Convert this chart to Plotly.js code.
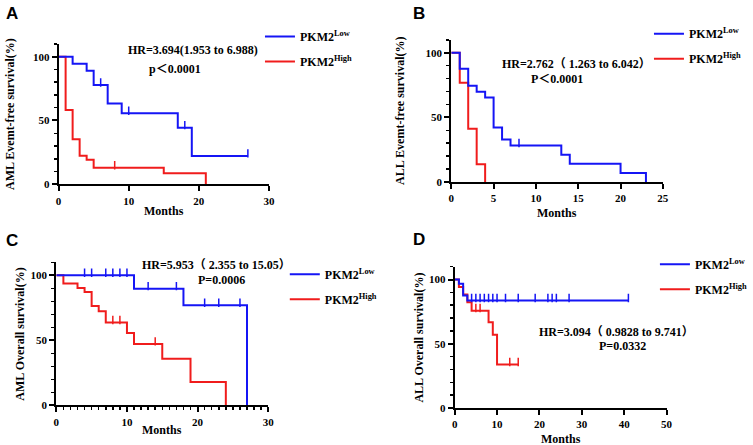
<!DOCTYPE html>
<html><head><meta charset="utf-8">
<script src="https://cdn.plot.ly/plotly-3.0.1.min.js"></script>
<style>html,body{margin:0;padding:0;background:#fff}#chart{width:753px;height:445px}</style>
</head><body><div id="chart"></div>
<script>
// ---------- DATA ----------
// Panel A: AML event-free survival
const aLowTimes = [0, 2, 4, 5, 7, 9, 17, 19, 27];
const aLowSurv = [100, 94.4, 88.9, 77.8, 63.3, 55.6, 44.4, 22.2, 22.2];
const aLowCensor = [6, 10, 18, 27];
const aHighTimes = [0, 1, 2, 3, 4, 5, 15, 21];
const aHighSurv = [100, 58.3, 35.3, 22.4, 19.3, 12.9, 8.6, 0];
const aHighCensor = [8];
// Panel B: ALL event-free survival
const bLowTimes = [0, 1, 2, 3, 4, 5, 6, 7, 13, 14, 20, 23];
const bLowSurv = [100, 87.6, 74.4, 69.8, 65.4, 42.2, 32.9, 28.2, 21.1, 14.1, 7.0, 0];
const bLowCensor = [8];
const bHighTimes = [0, 1, 2, 3, 4];
const bHighSurv = [100, 76.7, 41.1, 13.7, 0];
const bHighCensor = [];
// Panel C: AML overall survival
const cLowTimes = [0, 11, 18, 27];
const cLowSurv = [100, 89.7, 76.9, 0];
const cLowCensor = [4, 5, 7, 8, 9, 10, 13, 17, 21, 23, 26];
const cHighTimes = [0, 1, 3, 4, 5, 6, 7, 10, 11, 15, 19, 24];
const cHighSurv = [100, 93.6, 90.2, 87.2, 76.4, 72.3, 63.6, 55.6, 47.2, 35.9, 17.9, 0];
const cHighCensor = [8, 9, 14];
// Panel D: ALL overall survival
const dLowTimes = [0, 1, 2, 3, 41];
const dLowSurv = [100, 96.7, 87.6, 83.6, 83.6];
const dLowCensor = [4, 5, 6, 7, 8, 9, 10, 12, 15, 19, 22, 23, 24, 27, 41];
const dHighTimes = [0, 1, 2, 3, 4, 8, 9, 10, 15];
const dHighSurv = [100, 94.2, 88.3, 82.3, 75.8, 66.7, 57.1, 33.8, 33.8];
const dHighCensor = [5, 6, 13, 15];

// Text
const panelLetters = ['A', 'B', 'C', 'D'];
const yTitles = ['AML Evemt-free survival(%)', 'ALL Evemt-free survival(%)', 'AML Overall survival(%)', 'ALL Overall survival(%)'];
const xTitle = 'Months';
const hrTexts = ['HR=3.694(1.953 to 6.988)', 'HR=2.762（ 1.263 to 6.042）', 'HR=5.953（ 2.355 to 15.05）', 'HR=3.094（ 0.9828 to 9.741）'];
const pTexts = ['p＜0.0001', 'P＜0.0001', 'P=0.0006', 'P=0.0332'];
const groupNames = ['PKM2<sup>Low</sup>', 'PKM2<sup>High</sup>'];
const xMax = [30, 25, 30, 50];
const xDtick = [10, 5, 10, 10];
const yTickVals = [0, 50, 100];

// ---------- LAYOUT HELPERS ----------
const W = 753, H = 445;
const px = v => v / W, py = v => 1 - v / H;
const serif = 'Liberation Serif, Times New Roman, Noto Sans CJK SC, serif';
const sans = 'Liberation Sans, Arial, sans-serif';
const BLUE = '#1515f5', RED = '#f01c1c';

// plot boxes in pixels: [left, right, top, bottom]
const boxes = [
  [59, 270.7, 43.9, 184.3],
  [454.3, 667.3, 39.8, 182],
  [56.7, 270, 262.3, 405.3],
  [457.7, 671, 266.7, 408]
];
const hrPos = [[193.8, 50], [580.7, 64.3], [218.3, 265.3], [620.8, 332]];
const pPos = [[176, 69.3], [561, 79], [223.3, 280.3], [626.2, 346]];
const letterPos = [[12, 14], [422, 14], [12, 240], [422, 239.5]];
const yTitlePos = [10, 402.7, 20, 422];
const xTitleY = [211, 213, 430, 439];
const legendPos = [[301.7, 32], [693.3, 29.3], [326.7, 269.7], [699.3, 259.7]];

const panels = [
  {low: [aLowTimes, aLowSurv, aLowCensor], high: [aHighTimes, aHighSurv, aHighCensor]},
  {low: [bLowTimes, bLowSurv, bLowCensor], high: [bHighTimes, bHighSurv, bHighCensor]},
  {low: [cLowTimes, cLowSurv, cLowCensor], high: [cHighTimes, cHighSurv, cHighCensor]},
  {low: [dLowTimes, dLowSurv, dLowCensor], high: [dHighTimes, dHighSurv, dHighCensor]}
];

function survAt(times, surv, t) {
  let s = surv[0];
  for (let i = 0; i < times.length; i++) if (times[i] <= t) s = surv[i];
  return s;
}

const traces = [];
const layout = {
  width: W, height: H, margin: {l: 0, r: 0, t: 0, b: 0},
  paper_bgcolor: '#fff', plot_bgcolor: '#fff',
  showlegend: true, annotations: []
};

function label(text, x, y, font, extra) {
  return Object.assign({text: text, x: px(x), y: py(y), xref: 'paper', yref: 'paper',
    xanchor: 'center', yanchor: 'middle', showarrow: false, font: font}, extra || {});
}

panels.forEach((p, i) => {
  const n = i === 0 ? '' : String(i + 1);
  const xa = 'x' + n, ya = 'y' + n;
  const leg = 'legend' + n;
  const b = boxes[i];
  // draw High (red) first, Low (blue) on top
  [['high', RED, groupNames[1], 2], ['low', BLUE, groupNames[0], 1]].forEach(([k, col, name, rank]) => {
    const [t, s, c] = p[k];
    traces.push({
      type: 'scatter', mode: 'lines', x: t, y: s, xaxis: xa, yaxis: ya,
      line: {shape: 'hv', color: col, width: 2}, name: name,
      legend: leg, legendgroup: 'g' + i + k, legendrank: rank, hoverinfo: 'skip'
    });
    if (c.length) {
      traces.push({
        type: 'scatter', mode: 'markers', x: c, y: c.map(v => survAt(t, s, v) + 2),
        xaxis: xa, yaxis: ya, showlegend: false, hoverinfo: 'skip',
        marker: {symbol: 'line-ns', size: 6, line: {color: col, width: 1.5}, color: col}
      });
    }
  });
  const axCommon = {
    showgrid: false, zeroline: false, showline: true, linecolor: '#000', linewidth: 2,
    ticks: 'outside', ticklen: 5, tickwidth: 2, tickcolor: '#000',
    tickfont: {family: serif, size: 11, color: '#000', weight: 'bold'}, fixedrange: true
  };
  layout['xaxis' + n] = Object.assign({}, axCommon, {
    domain: [px(b[0]), px(b[1])], anchor: ya, range: [0, xMax[i]], dtick: xDtick[i], tick0: 0,
    minor: i === 2 ? {dtick: 1, ticks: 'outside', ticklen: 3, tickwidth: 1.5, tickcolor: '#000'} : undefined
  });
  layout['yaxis' + n] = Object.assign({}, axCommon, {
    domain: [py(b[3]), py(b[2])], anchor: xa, range: [0, 110], tickvals: yTickVals,
    minor: {dtick: 10, ticks: 'outside', ticklen: 3, tickwidth: 1.5, tickcolor: '#000'}
  });
  layout[leg] = {
    x: px(legendPos[i][0] - 40), y: py(legendPos[i][1] - 10), xanchor: 'left', yanchor: 'top',
    xref: 'paper', yref: 'paper', bgcolor: 'rgba(0,0,0,0)', tracegroupgap: 6,
    font: {family: serif, size: 12, color: '#000', weight: 'bold'}
  };
  const serifFont = {family: serif, size: 12, color: '#000', weight: 'bold'};
  const ann = layout.annotations;
  ann.push(label(panelLetters[i], letterPos[i][0], letterPos[i][1], {family: sans, size: 17, color: '#000', weight: 'bold'}));
  ann.push(label(yTitles[i], yTitlePos[i], (b[2] + b[3]) / 2, serifFont, {textangle: -90}));
  ann.push(label(xTitle, (b[0] + b[1]) / 2, xTitleY[i], serifFont));
  ann.push(label(hrTexts[i], hrPos[i][0], hrPos[i][1], serifFont));
  ann.push(label(pTexts[i], pPos[i][0], pPos[i][1], serifFont));
});

Plotly.newPlot('chart', traces, layout, {displayModeBar: false, staticPlot: true});
</script></body></html>
